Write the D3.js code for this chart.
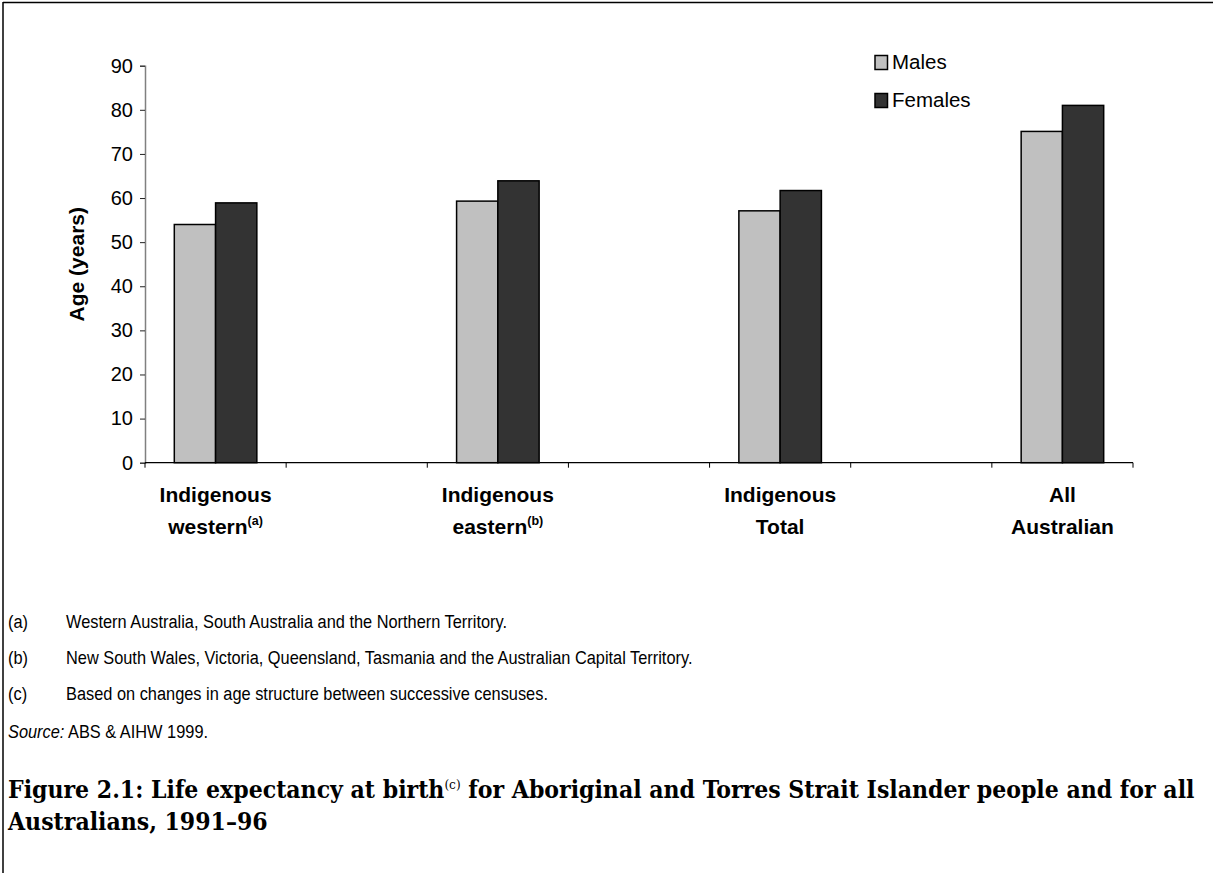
<!DOCTYPE html>
<html>
<head>
<meta charset="utf-8">
<script src="https://cdn.jsdelivr.net/npm/d3@7"></script>
<style>
  html, body { margin: 0; padding: 0; background: #fff; }
  svg { display: block; }
</style>
</head>
<body>
<svg id="chart" width="1213" height="873"></svg>
<script>
// Life expectancy at birth, 1991–96
const categories = ["Indigenous western", "Indigenous eastern", "Indigenous Total", "All Australian"];
const catLine1 = ["Indigenous", "Indigenous", "Indigenous", "All"];
const catLine2 = ["western", "eastern", "Total", "Australian"];
const catSup = ["(a)", "(b)", "", ""];
const seriesNames = ["Males", "Females"];
const males = [54.0, 59.3, 57.1, 75.1];
const females = [58.9, 63.9, 61.7, 81.0];
const yTicks = [0, 10, 20, 30, 40, 50, 60, 70, 80, 90];
const footnotes = [
  ["(a)", "Western Australia, South Australia and the Northern Territory."],
  ["(b)", "New South Wales, Victoria, Queensland, Tasmania and the Australian Capital Territory."],
  ["(c)", "Based on changes in age structure between successive censuses."]
];

const colors = { Males: "#c0c0c0", Females: "#333333" };
const svg = d3.select("#chart");

// page frame (top and left rules)
svg.append("line").attr("x1", 3).attr("x2", 1213).attr("y1", 2.5).attr("y2", 2.5)
  .attr("stroke", "#000").attr("stroke-width", 1.5);
svg.append("line").attr("x1", 3).attr("x2", 3).attr("y1", 2).attr("y2", 873)
  .attr("stroke", "#000").attr("stroke-width", 1.5);

const plot = { left: 145, right: 1133, top: 65.7, bottom: 462.7 };

// categories sit in every other slot, with empty slots between them
const slots = d3.range(categories.length * 2 - 1);
const x = d3.scaleBand().domain(slots).range([plot.left, plot.right]).padding(0);
const xSub = d3.scaleBand().domain(seriesNames).range([0, x.bandwidth()])
  .paddingInner(0).paddingOuter(0.71);
const y = d3.scaleLinear().domain([0, 90]).range([plot.bottom, plot.top]);

const font = "'Liberation Sans', Arial, sans-serif";

// y axis
const yAxis = d3.axisLeft(y).tickValues(yTicks).tickSize(5).tickPadding(7);
const gy = svg.append("g").attr("transform", `translate(${plot.left},0)`).call(yAxis);
gy.select(".domain").attr("stroke", "#808080").attr("stroke-width", 1.5);
gy.selectAll(".tick line").attr("stroke", "#222").attr("stroke-width", 1);
gy.selectAll(".tick text").attr("font-family", font).attr("font-size", 20).attr("fill", "#000");

// x axis with boundary ticks between slots
const boundaries = slots.map(s => x(s)).concat([plot.right]);
const gx = svg.append("g");
gx.append("line").attr("x1", plot.left).attr("x2", plot.right)
  .attr("y1", plot.bottom).attr("y2", plot.bottom).attr("stroke", "#000").attr("stroke-width", 1.3);
gx.selectAll("line.tk").data(boundaries).join("line").attr("class", "tk")
  .attr("x1", d => d).attr("x2", d => d)
  .attr("y1", plot.bottom).attr("y2", plot.bottom + 5)
  .attr("stroke", "#000").attr("stroke-width", 1);

// bars
const data = categories.map((c, i) => ({ i, values: [
  { key: "Males", value: males[i] },
  { key: "Females", value: females[i] }
]}));
const groups = svg.append("g").selectAll("g").data(data).join("g")
  .attr("transform", d => `translate(${x(d.i * 2)},0)`);
groups.selectAll("rect").data(d => d.values).join("rect")
  .attr("x", d => xSub(d.key))
  .attr("width", xSub.bandwidth())
  .attr("y", d => y(d.value))
  .attr("height", d => y(0) - y(d.value))
  .attr("fill", d => colors[d.key])
  .attr("stroke", "#000").attr("stroke-width", 1.5);

// category labels
const labels = svg.append("g").selectAll("text").data(data).join("text")
  .attr("font-family", font).attr("font-weight", "bold").attr("font-size", 21)
  .attr("text-anchor", "middle");
labels.append("tspan")
  .attr("x", d => x(d.i * 2) + x.bandwidth() / 2).attr("y", 502)
  .text(d => catLine1[d.i]);
labels.append("tspan")
  .attr("x", d => x(d.i * 2) + x.bandwidth() / 2).attr("y", 534)
  .text(d => catLine2[d.i]);
labels.filter(d => catSup[d.i]).append("tspan")
  .attr("font-size", 12.5).attr("dy", -9)
  .text(d => catSup[d.i]);

// y axis title
svg.append("text")
  .attr("transform", `translate(84,${(plot.top + plot.bottom) / 2}) rotate(-90)`)
  .attr("text-anchor", "middle")
  .attr("font-family", font).attr("font-weight", "bold").attr("font-size", 21)
  .text("Age (years)");

// legend
const legend = svg.append("g").selectAll("g").data(seriesNames).join("g")
  .attr("transform", (d, i) => `translate(875,${55.5 + i * 38})`);
legend.append("rect").attr("width", 12.5).attr("height", 14)
  .attr("fill", d => colors[d]).attr("stroke", "#000").attr("stroke-width", 1.5);
legend.append("text").attr("x", 17).attr("y", 13.5)
  .attr("font-family", font).attr("font-size", 20.5).text(d => d);

// footnotes, set in a narrow face
const fn = svg.append("g").attr("font-family", font).attr("font-size", 18.5);
const narrowText = (xx, yy) => fn.append("text")
  .attr("transform", `translate(${xx},${yy}) scale(0.885,1)`);
footnotes.forEach((f, i) => {
  const yy = 628 + i * 36;
  narrowText(8, yy).text(f[0]);
  narrowText(66, yy).text(f[1]);
});
const src = narrowText(8, 738);
src.append("tspan").attr("font-style", "italic").text("Source:");
src.append("tspan").text(" ABS & AIHW 1999.");

// figure caption, sized to span the text block
const serif = "'DejaVu Serif Condensed', 'DejaVu Serif', 'Liberation Serif', serif";
const cap = svg.append("g").attr("font-family", serif).attr("font-weight", "bold");
const t1 = cap.append("text").attr("x", 8).attr("y", 798);
t1.append("tspan").attr("class", "main").text("Figure 2.1: Life expectancy at birth");
t1.append("tspan").attr("class", "sup").attr("font-weight", "normal").text("(c)");
t1.append("tspan").attr("class", "main").text(" for Aboriginal and Torres Strait Islander people and for all");
const t2 = cap.append("text").attr("x", 8).attr("y", 830).text("Australians, 1991–96");

function setCaptionSize(s) {
  cap.attr("font-size", s);
  t1.selectAll("tspan.sup").attr("font-size", s * 0.55).attr("dy", -s * 0.38);
  t1.selectAll("tspan.main").filter((d, i) => i === 1).attr("dy", s * 0.38);
}
setCaptionSize(20);
const w = t1.node().getBBox().width;
setCaptionSize(20 * 1187 / w);
</script>
</body>
</html>
